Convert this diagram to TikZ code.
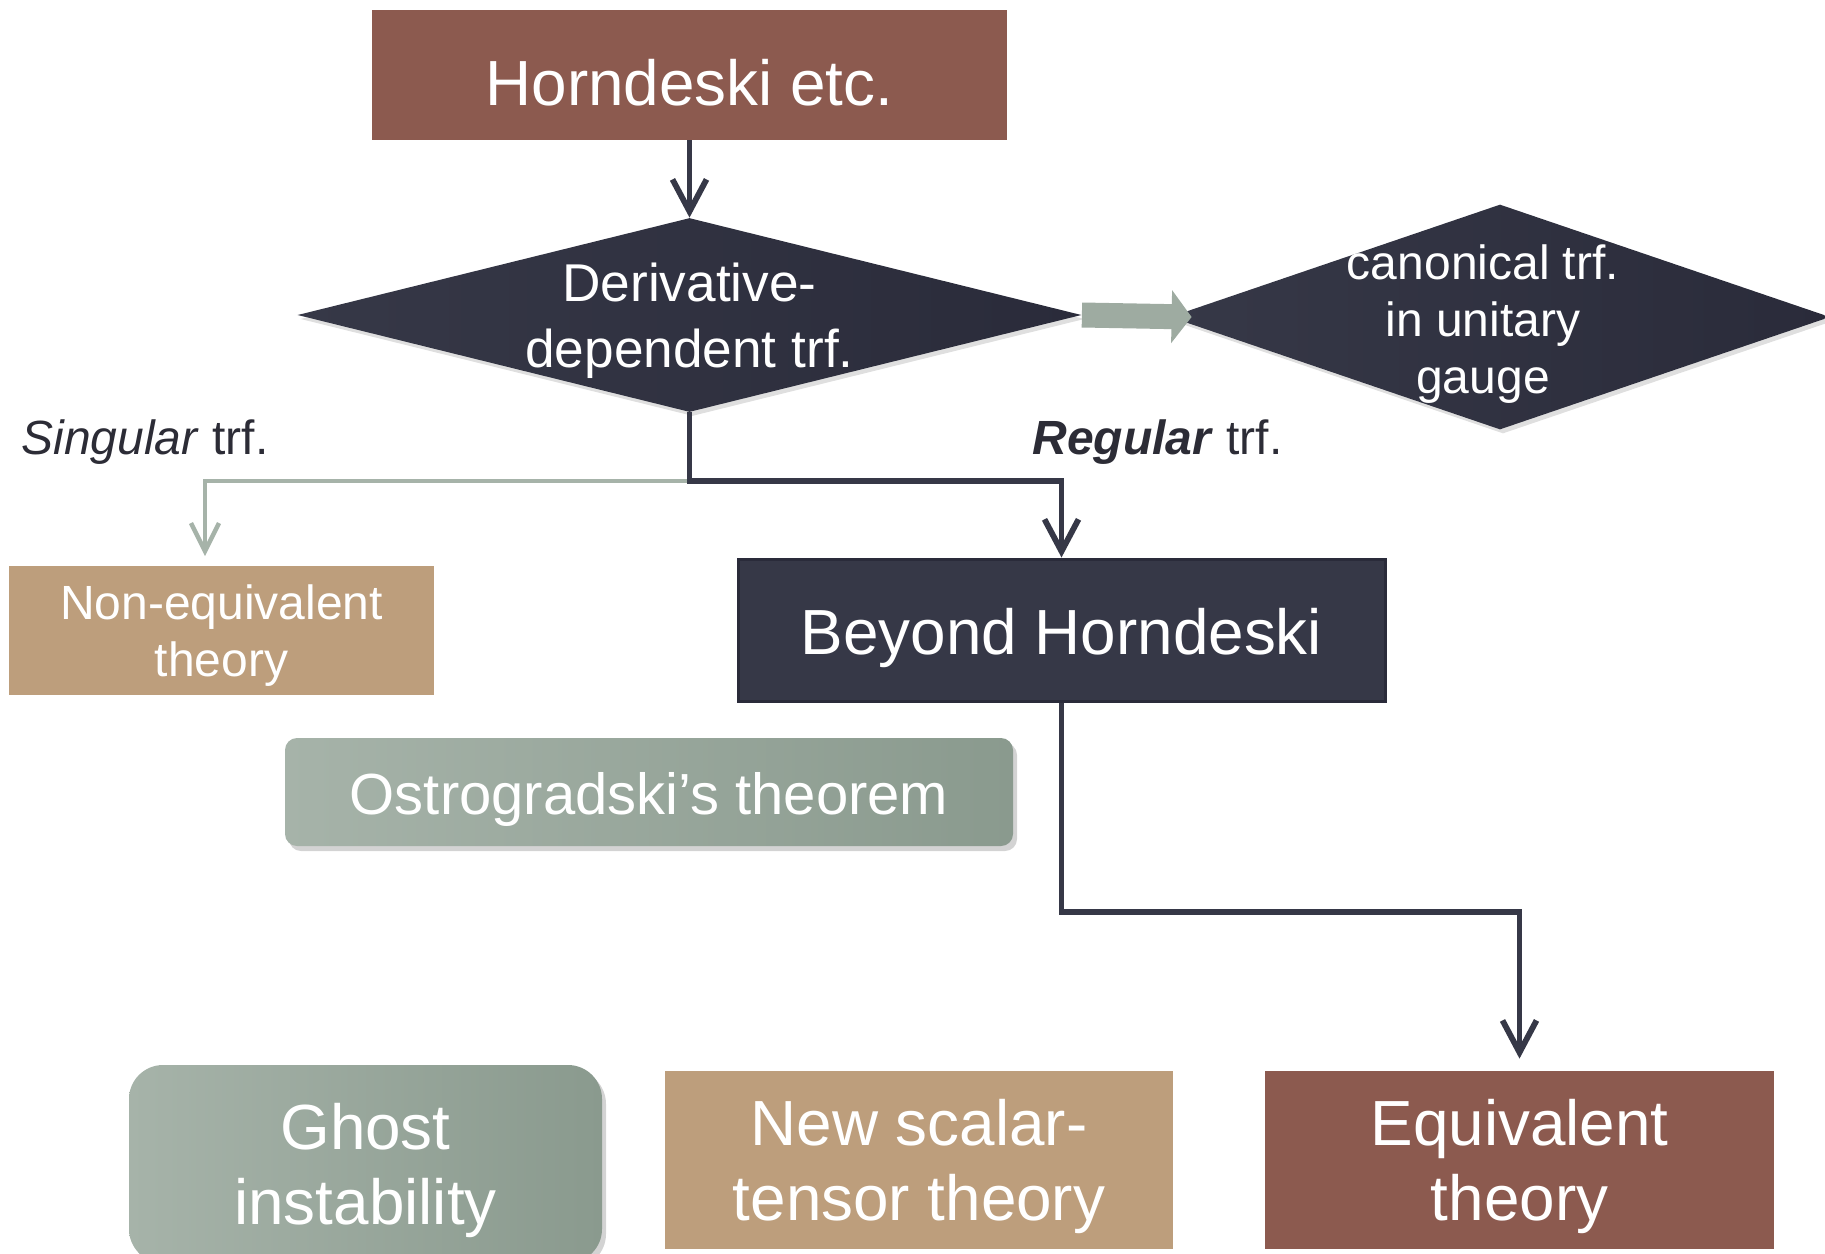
\documentclass[tikz,border=0pt]{standalone}
\usepackage{fontspec}
\setmainfont{Liberation Sans}
\usetikzlibrary{shapes.geometric,arrows.meta,shadows}

\definecolor{brick}{HTML}{8C5A4F}
\definecolor{sand}{HTML}{BD9E7C}
\definecolor{ink}{HTML}{363847}
\definecolor{inkdark}{HTML}{2A2B3A}
\definecolor{sage}{HTML}{A6B3A9}
\definecolor{sagedark}{HTML}{8A9A8E}
\definecolor{labelgrey}{HTML}{2C2C36}

\newcommand{\fsBig}{\fontsize{31.9}{37.6}\selectfont}
\newcommand{\fsDer}{\fontsize{26.6}{33}\selectfont}
\newcommand{\fsSmall}{\fontsize{24}{28.5}\selectfont}
\newcommand{\fsOst}{\fontsize{29}{34}\selectfont}

\begin{document}
\begin{tikzpicture}[x=0.5pt,y=-0.5pt,
  every node/.style={text=white,align=center,inner sep=0pt},
  lowered/.style={execute at begin node={\rule{0pt}{0.98em}}},
  twoline/.style={text depth=-1pt},
  plain/.style n args={2}{rectangle,minimum width=#1,minimum height=#2},
  decision/.style={diamond,shading=axis,left color=ink,right color=inkdark,
    drop shadow={opacity=0.25,shadow xshift=1.5pt,shadow yshift=-2pt}},
  soft/.style={rounded corners=#1,shading=axis,left color=sage,middle color=sage!80!sagedark,
    right color=sagedark,drop shadow={opacity=0.35,shadow xshift=2pt,shadow yshift=-2.5pt}},
  link/.style={draw=ink,line width=2.9pt,-{Straight Barb[length=16pt,width=17pt]}},
  greylink/.style={draw=sage,line width=2.2pt,-{Straight Barb[length=14pt,width=14pt]}},
  fat/.style={draw=sage!70!sagedark,line width=12.5pt,-{Triangle[length=10pt,width=26pt]}},
  note/.style={text=labelgrey,font=\fsSmall,anchor=base west}]
\clip (0,0) rectangle (1825,1253);

% boxes
\node[plain={317.5pt}{65pt},lowered,fill=brick,font=\fsBig] (horn) at (689.5,75) {Horndeski etc.};
\node[decision,minimum width=392pt,minimum height=97pt] (deriv) at (689.5,315) {};
\node[font=\fsDer,twoline] (derivtxt) at (deriv) {Derivative-\\dependent trf.};
\node[decision,minimum width=330pt,minimum height=112.5pt] (canon) at (1500,317) {};
\node[font=\fsSmall,twoline] (canontxt) at ([shift={(-17,2)}]canon.center) {canonical trf.\\in unitary\\gauge};

\node[note] (sing) at (21,454) {\textit{Singular} trf.};
\node[note] (reg) at (1032,454) {\textbf{\textit{Regular}} trf.};

\node[plain={212.5pt}{64.5pt},twoline,fill=sand,font=\fsSmall] (noneq) at (221.5,630.5) {Non-equivalent\\theory};
\node[plain={323.5pt}{71pt},lowered,fill=ink,draw=inkdark,line width=1.5pt,font=\fsBig] (beyond) at (1061.5,630) {Beyond Horndeski};
\node[plain={364pt}{54pt},lowered,soft=6pt,font=\fsOst] (ostro) at (649,792) {Ostrogradski’s theorem};

\node[plain={236.5pt}{99pt},twoline,soft=17pt,font=\fsBig] (ghost) at (365.5,1164) {Ghost\\instability};
\node[plain={254pt}{89pt},twoline,fill=sand,font=\fsBig] (newst) at (919,1160) {New scalar-\\tensor theory};
\node[plain={254.5pt}{89pt},twoline,fill=brick,font=\fsBig] (equiv) at (1519.5,1160) {Equivalent\\theory};

% connectors
\coordinate (fork) at (689.5,481);
\coordinate (singtip) at (205,556);
\coordinate (elbow) at (1061.5,912);
\draw[link] (horn.south) -- (deriv.north);
\draw[fat] (deriv.east) -- ([xshift=11pt]canon.west);
\draw[greylink] (fork) -| (singtip);
\draw[link] (deriv.south) -- (fork) -| (beyond.north);
\draw[link,shorten >=6pt] (beyond.south) -- (elbow) -| (equiv.north);
\end{tikzpicture}
\end{document}
